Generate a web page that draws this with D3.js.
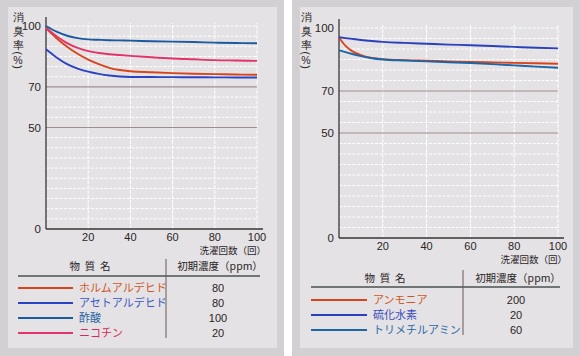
<!DOCTYPE html>
<html><head><meta charset="utf-8">
<script src="https://cdn.jsdelivr.net/npm/d3@7"></script>
<style>
html,body{margin:0;padding:0;background:#fff;}
svg{display:block;}
text{font-family:"Liberation Sans","DejaVu Sans",sans-serif;}
.jp{font-family:"Noto Sans CJK JP","Noto Sans",sans-serif;}
</style></head>
<body>
<svg id="c" width="580" height="356"></svg>
<script>
// ---------- DATA ----------
const xTicks = [20, 40, 60, 80, 100];
const yTicks = [0, 50, 70, 100];
const xTitle = "洗濯回数（回）";
const yTitleChars = ["消", "臭", "率"];
const yTitleUnit = ["(", "%", ")"];
const legendHeader = ["物 質 名", "初期濃度（ppm）"];

// Left chart
const leftX = [0, 5, 10, 15, 20, 25, 30, 35, 40, 50, 60, 70, 80, 90, 100];
const formaldehyde = [99, 94, 89.8, 86.3, 83.4, 81.2, 79.4, 78.3, 77.7, 77.2, 76.8, 76.5, 76.3, 76.1, 76.0];
const acetaldehyde = [88.5, 84.5, 81.2, 79.0, 77.5, 76.4, 75.6, 75.1, 74.9, 74.85, 74.8, 74.75, 74.7, 74.65, 74.6];
const aceticAcid   = [100, 97.2, 95.2, 94.0, 93.4, 93.2, 93.0, 92.9, 92.8, 92.5, 92.3, 92.1, 91.8, 91.6, 91.5];
const nicotine     = [99, 95, 91.6, 89.2, 87.6, 86.7, 86.1, 85.7, 85.3, 84.6, 84.0, 83.6, 83.2, 83.0, 82.8];
const leftNames  = ["ホルムアルデヒド", "アセトアルデヒド", "酢酸", "ニコチン"];
const leftPpm    = ["80", "80", "100", "20"];

// Right chart
const rightX = [0, 3, 6, 10, 15, 20, 30, 40, 50, 60, 70, 80, 90, 100];
const ammonia      = [95.5, 91.5, 89.0, 87.1, 85.8, 85.2, 84.7, 84.4, 84.1, 83.8, 83.6, 83.4, 83.2, 83.0];
const hydrogenSulf = [95.6, 95.2, 94.8, 94.3, 93.8, 93.4, 92.9, 92.5, 92.1, 91.8, 91.4, 91.0, 90.6, 90.3];
const trimethyl    = [89.5, 88.5, 87.6, 86.6, 85.6, 85.0, 84.5, 84.1, 83.7, 83.3, 82.8, 82.2, 81.6, 81.1];
const rightNames = ["アンモニア", "硫化水素", "トリメチルアミン"];
const rightPpm   = ["200", "20", "60"];

// ---------- DRAW ----------
const svg = d3.select("#c");
svg.append("rect").attr("x",0).attr("y",0).attr("width",284).attr("height",356).attr("fill","#d2d0d2");
svg.append("rect").attr("x",292).attr("y",0).attr("width",288).attr("height",356).attr("fill","#d2d0d2");
svg.append("rect").attr("x",8).attr("y",7).attr("width",269).attr("height",341).attr("fill","#e4e2e4");
svg.append("rect").attr("x",300).attr("y",7).attr("width",273).attr("height",341).attr("fill","#e4e2e4");

function drawChart(cfg){
  const g = svg.append("g");
  const x = d3.scaleLinear().domain([0,100]).range(cfg.xr);
  const y = d3.scaleLinear().domain([0,100]).range(cfg.yr);
  // horizontal grid
  const hg = d3.range(5, 101, 5);
  g.selectAll(".hg").data(hg.filter(v => v!==50 && v!==70)).join("line")
    .attr("x1", x(0)).attr("x2", x(100)).attr("y1", d=>y(d)).attr("y2", d=>y(d))
    .attr("stroke","#ffffff").attr("stroke-width",1).attr("stroke-dasharray","3,1.5");
  // vertical grid
  g.selectAll(".vg").data(xTicks).join("line")
    .attr("x1", d=>x(d)).attr("x2", d=>x(d)).attr("y1", y(0)).attr("y2", y(100)-3)
    .attr("stroke","#ffffff").attr("stroke-width",1).attr("stroke-dasharray","4,1");
  // reference lines 50, 70
  g.selectAll(".rl").data([50,70]).join("line")
    .attr("x1", x(0)).attr("x2", x(100)).attr("y1", d=>y(d)).attr("y2", d=>y(d))
    .attr("stroke","#9e8e8e").attr("stroke-width",1.2);
  // axes lines
  g.append("line").attr("x1",x(0)).attr("x2",x(100)+6).attr("y1",y(0)).attr("y2",y(0))
    .attr("stroke","#3a3434").attr("stroke-width",1.3);
  g.append("line").attr("x1",x(0)).attr("x2",x(0)).attr("y1",y(0)).attr("y2",y(100)-9)
    .attr("stroke","#3a3434").attr("stroke-width",1.3);
  // tick labels
  g.selectAll(".xt").data(xTicks).join("text")
    .attr("x", d=>x(d)).attr("y", y(0)+11.5).attr("text-anchor","middle")
    .attr("font-size",11).attr("fill","#2a2424").text(d=>d);
  g.selectAll(".yt").data(yTicks).join("text")
    .attr("x", x(0)-5).attr("y", d=>y(d)+4).attr("text-anchor","end")
    .attr("font-size",11.5).attr("fill","#2a2424").text(d=>d);
  g.append("text").attr("class","jp").attr("x", x(100)+9).attr("y", y(0)+24.5)
    .attr("text-anchor","end").attr("font-size",9.5).attr("fill","#2a2424").text(xTitle);
  // y title vertical
  const yt = g.append("g").attr("class","jp");
  yTitleChars.forEach((c,i)=>{
    yt.append("text").attr("x",cfg.ytx).attr("y",cfg.yty + i*14).attr("text-anchor","middle")
      .attr("font-size",11).attr("fill","#2a2424").text(c);
  });
  const uy = [cfg.yty + 32, cfg.yty + 39, cfg.yty + 46];
  yTitleUnit.forEach((c,i)=>{
    const t = yt.append("text").attr("x",cfg.ytx).attr("y",uy[i]).attr("text-anchor","middle")
      .attr("dominant-baseline","central").attr("font-size", i===1 ? 10.5 : 11)
      .attr("fill","#2a2424").text(c);
    if(i!==1) t.attr("transform",`rotate(90,${cfg.ytx},${uy[i]})`);
  });
  // series
  const line = d3.line().x((d,i)=>x(cfg.xs[i])).y(d=>y(d)).curve(d3.curveMonotoneX);
  cfg.series.forEach(s=>{
    g.append("path").attr("d", line(s.values)).attr("fill","none")
      .attr("stroke", s.color).attr("stroke-width",1.9);
  });
  // legend
  const L = cfg.leg;
  g.append("text").attr("class","jp").attr("x",L.h1x).attr("y",L.hy).attr("text-anchor","middle")
    .attr("font-size",10.5).attr("fill","#2a2424").attr("xml:space","preserve").text(legendHeader[0].split(" ").join("  "));
  g.append("text").attr("class","jp").attr("x",L.h2x).attr("y",L.hy).attr("text-anchor","middle")
    .attr("font-size",10.5).attr("fill","#2a2424").text(legendHeader[1]);
  g.append("line").attr("x1",L.lx1).attr("x2",L.lx2).attr("y1",L.ly).attr("y2",L.ly)
    .attr("stroke","#4a5050").attr("stroke-width",1.3);
  g.append("line").attr("x1",L.vx).attr("x2",L.vx).attr("y1",L.vy1).attr("y2",L.vy2)
    .attr("stroke","#6a5858").attr("stroke-width",1);
  cfg.series.forEach((s,i)=>{
    const ry = L.ry0 + i*L.rdy;
    g.append("line").attr("x1",L.lx1).attr("x2",L.sx2).attr("y1",ry).attr("y2",ry)
      .attr("stroke",s.color).attr("stroke-width",1.8);
    g.append("text").attr("class","jp").attr("x",L.tx).attr("y",ry+4).attr("font-size",11)
      .attr("fill",s.tcolor).text(s.name);
    g.append("text").attr("x",L.h2x - 2).attr("y",ry+4).attr("text-anchor","middle").attr("font-size",11)
      .attr("fill","#2a2424").text(s.ppm);
  });
}

drawChart({
  xr:[46,257], yr:[229,26], xs:leftX, ytx:18, yty:21,
  series:[
    {values:formaldehyde, color:"#d8441c", tcolor:"#d0561e", name:leftNames[0], ppm:leftPpm[0]},
    {values:acetaldehyde, color:"#2a42c4", tcolor:"#3a56c8", name:leftNames[1], ppm:leftPpm[1]},
    {values:aceticAcid,   color:"#1b5a9e", tcolor:"#2a64a4", name:leftNames[2], ppm:leftPpm[2]},
    {values:nicotine,     color:"#e0346a", tcolor:"#d42c5a", name:leftNames[3], ppm:leftPpm[3]}
  ],
  leg:{h1x:90, h2x:220, hy:270, lx1:18, lx2:260, ly:276, vx:166, vy1:259, vy2:338,
       ry0:288, rdy:15, sx2:73, tx:79}
});
drawChart({
  xr:[339,558], yr:[238,28], xs:rightX, ytx:306, yty:21,
  series:[
    {values:ammonia,      color:"#d8441c", tcolor:"#d0561e", name:rightNames[0], ppm:rightPpm[0]},
    {values:hydrogenSulf, color:"#2a40bc", tcolor:"#3a4cb8", name:rightNames[1], ppm:rightPpm[1]},
    {values:trimethyl,    color:"#1b66a6", tcolor:"#2a6aa8", name:rightNames[2], ppm:rightPpm[2]}
  ],
  leg:{h1x:385, h2x:518, hy:282, lx1:311, lx2:560, ly:287, vx:463, vy1:270, vy2:335,
       ry0:300, rdy:15, sx2:367, tx:373}
});
</script>
</body></html>
